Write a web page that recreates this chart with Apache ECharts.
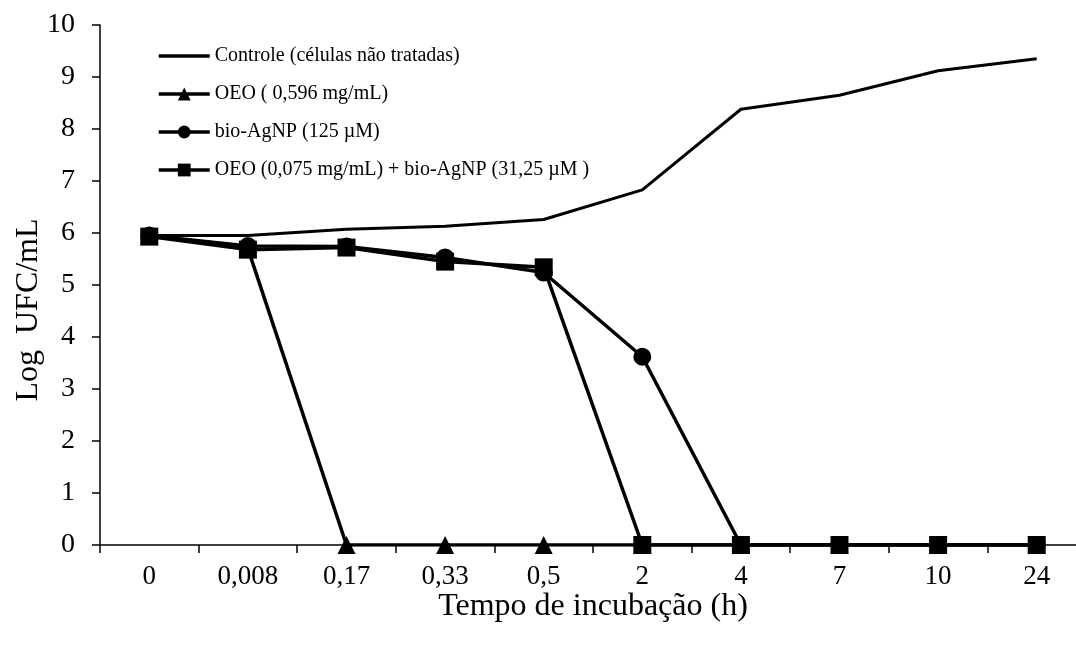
<!DOCTYPE html>
<html>
<head>
<meta charset="utf-8">
<script src="https://cdn.jsdelivr.net/npm/echarts@6/dist/echarts.min.js"></script>
<style>
  html, body { margin: 0; padding: 0; background: #fff; }
  #chart { width: 1076px; height: 651px; }
</style>
</head>
<body>
<div id="chart"></div>
<script>
// tempos de incubação (h)
var tempos = ['0', '0,008', '0,17', '0,33', '0,5', '2', '4', '7', '10', '24']
// Log UFC/mL
var controle = [5.95, 5.95, 6.07, 6.13, 6.26, 6.83, 8.38, 8.65, 9.12, 9.35]
var oeo = [5.95, 5.70, 0, 0, 0, 0, 0, 0, 0, 0]
var bioAgnp = [5.95, 5.75, 5.74, 5.53, 5.24, 3.62, 0, 0, 0, 0]
var combinado = [5.93, 5.68, 5.72, 5.45, 5.34, 0, 0, 0, 0, 0]

var fonte = 'Liberation Serif, Times New Roman, serif'
var chart = echarts.init(document.getElementById('chart'))

chart.setOption({
  backgroundColor: '#fff',
  animation: false,
  textStyle: { fontFamily: fonte, color: '#000' },
  legend: {
    orient: 'vertical',
    left: 152,
    top: 41,
    itemWidth: 51,
    itemHeight: 16,
    itemGap: 18,
    lineStyle: { width: 3.5 },
    textStyle: { fontFamily: fonte, fontSize: 20, color: '#000' },
    data: [
      // controle sem marcador na legenda
      { name: 'Controle (células não tratadas)', itemStyle: { opacity: 0 } },
      'OEO ( 0,596 mg/mL)',
      'bio-AgNP (125 µM)',
      'OEO (0,075 mg/mL) + bio-AgNP (31,25 µM )'
    ]
  },
  grid: {
    left: 100,
    right: -10,
    top: 25,
    bottom: 106,
    outerBoundsMode: 'none'
  },
  xAxis: {
    type: 'category',
    data: tempos,
    boundaryGap: true,
    name: 'Tempo de incubação (h)',
    nameLocation: 'middle',
    nameGap: 46,
    nameMoveOverlap: false,
    nameTextStyle: { fontFamily: fonte, fontSize: 32, color: '#000' },
    axisLine: { lineStyle: { color: '#000', width: 1.5 } },
    axisTick: { show: true, length: 8, alignWithLabel: false, lineStyle: { color: '#000', width: 1.5 } },
    axisLabel: { fontFamily: fonte, fontSize: 27, color: '#000', margin: 18 },
    splitLine: { show: false }
  },
  yAxis: {
    type: 'value',
    min: 0,
    max: 10,
    interval: 1,
    name: 'Log  UFC/mL',
    nameLocation: 'middle',
    nameGap: 55,
    nameMoveOverlap: false,
    nameTextStyle: { fontFamily: fonte, fontSize: 32, color: '#000', padding: [0, 50, 0, 0] },
    axisLine: { show: true, lineStyle: { color: '#000', width: 1.5 } },
    axisTick: { show: true, length: 8, lineStyle: { color: '#000', width: 1.5 } },
    axisLabel: { fontFamily: fonte, fontSize: 28, color: '#000', margin: 25 },
    splitLine: { show: false }
  },
  series: [
    {
      name: 'Controle (células não tratadas)',
      type: 'line',
      data: controle,
      symbol: 'none',
      lineStyle: { color: '#000', width: 3 },
      itemStyle: { color: '#000' }
    },
    {
      name: 'OEO ( 0,596 mg/mL)',
      type: 'line',
      data: oeo,
      symbol: 'triangle',
      symbolSize: 18,
      showAllSymbol: true,
      lineStyle: { color: '#000', width: 3.5 },
      itemStyle: { color: '#000' }
    },
    {
      name: 'bio-AgNP (125 µM)',
      type: 'line',
      data: bioAgnp,
      symbol: 'circle',
      symbolSize: 18,
      showAllSymbol: true,
      lineStyle: { color: '#000', width: 3.5 },
      itemStyle: { color: '#000' }
    },
    {
      name: 'OEO (0,075 mg/mL) + bio-AgNP (31,25 µM )',
      type: 'line',
      data: combinado,
      symbol: 'rect',
      symbolSize: 18,
      showAllSymbol: true,
      lineStyle: { color: '#000', width: 3.5 },
      itemStyle: { color: '#000' }
    }
  ]
})
</script>
</body>
</html>
